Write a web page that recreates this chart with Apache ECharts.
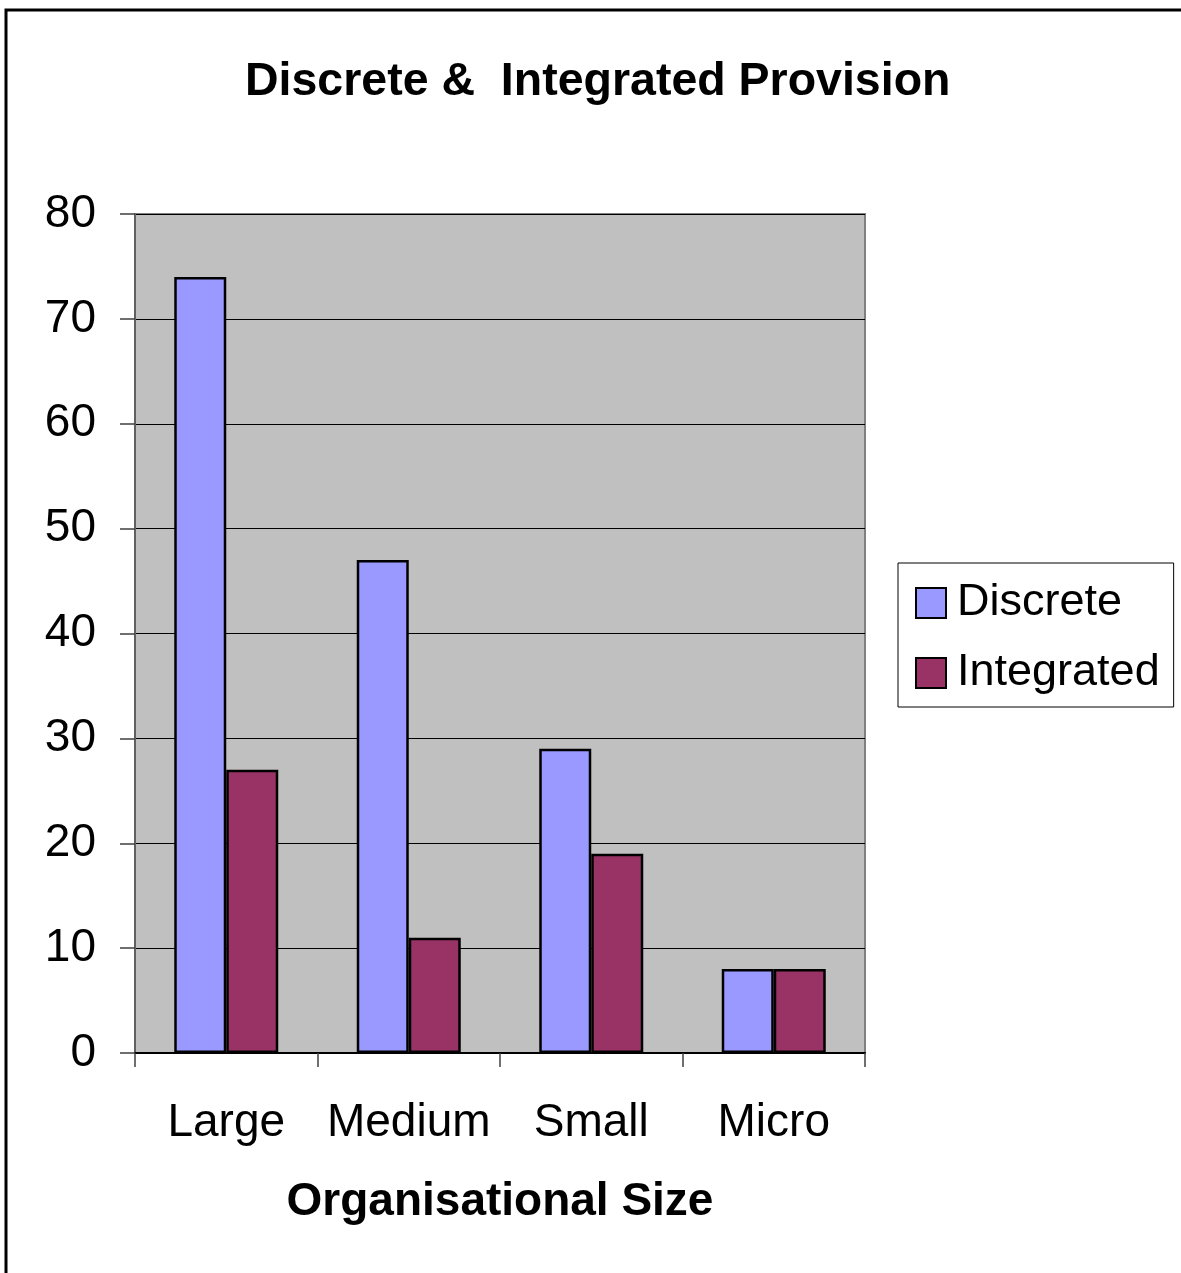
<!DOCTYPE html>
<html>
<head>
<meta charset="utf-8">
<script src="https://cdn.jsdelivr.net/npm/echarts@6/dist/echarts.min.js"></script>
<style>
  html, body { margin: 0; padding: 0; background: #fff; overflow: hidden; }
  #chart { width: 1181px; height: 1273px; }
</style>
</head>
<body>
<div id="chart"></div>
<script>
// Organisation size categories and the share of each provision type
const categories = ['Large', 'Medium', 'Small', 'Micro'];
const discrete = [74, 47, 29, 8];
const integrated = [27, 11, 19, 8];
const yTicks = { min: 0, max: 80, interval: 10 };

const FONT = '"Liberation Sans", Arial, sans-serif';

const chart = echarts.init(document.getElementById('chart'), null, { renderer: 'canvas' });

chart.setOption({
  backgroundColor: '#ffffff',
  animation: false,
  textStyle: { fontFamily: FONT, color: '#000' },
  title: {
    text: 'Discrete &  Integrated Provision',
    left: 245,
    top: 59,
    padding: 0,
    textStyle: { fontFamily: FONT, fontSize: 46.5, fontWeight: 'bold', color: '#000' }
  },
  graphic: [{
    type: 'rect',
    shape: { x: 6, y: 10, width: 1200, height: 1300 },
    style: { fill: 'none', stroke: '#000', lineWidth: 3 },
    silent: true,
    z: 100
  }],
  legend: {
    orient: 'vertical',
    left: 898,
    top: 563,
    padding: [17, 14, 11, 17],
    itemGap: 24,
    itemWidth: 30,
    itemHeight: 30,
    icon: 'rect',
    borderColor: '#000',
    borderWidth: 1,
    backgroundColor: '#fff',
    textStyle: { fontFamily: FONT, fontSize: 45, color: '#000', lineHeight: 46, padding: [0, 0, 0, 6] },
    data: ['Discrete', 'Integrated']
  },
  grid: {
    left: 135,
    top: 214,
    width: 730,
    height: 839,
    show: true,
    backgroundColor: '#C0C0C0',
    borderColor: '#808080',
    borderWidth: 2,
    containLabel: false
  },
  xAxis: {
    type: 'category',
    data: categories,
    boundaryGap: true,
    name: 'Organisational Size',
    nameLocation: 'middle',
    nameGap: 126,
    nameTextStyle: { fontFamily: FONT, fontSize: 46, fontWeight: 'bold', color: '#000', verticalAlign: 'top' },
    axisLine: { show: true, lineStyle: { color: '#000', width: 2 } },
    axisTick: { show: true, interval: 0, length: 14, alignWithLabel: false, lineStyle: { color: '#404040', width: 1.5 } },
    axisLabel: { interval: 0, margin: 47, fontFamily: FONT, fontSize: 46, color: '#000' },
    splitLine: { show: false }
  },
  yAxis: {
    type: 'value',
    min: yTicks.min,
    max: yTicks.max,
    interval: yTicks.interval,
    axisLine: { show: true, lineStyle: { color: '#606060', width: 2 } },
    axisTick: { show: true, inside: false, length: 15, lineStyle: { color: '#404040', width: 1.5 } },
    axisLabel: { margin: 39, fontFamily: FONT, fontSize: 46, color: '#000' },
    splitLine: { show: true, lineStyle: { color: '#000', width: 1 } }
  },
  series: [
    {
      name: 'Discrete',
      type: 'bar',
      data: discrete,
      barWidth: 52,
      barGap: '0%',
      itemStyle: { color: '#9999FF', borderColor: '#000', borderWidth: 2.5 }
    },
    {
      name: 'Integrated',
      type: 'bar',
      data: integrated,
      barWidth: 52,
      barGap: '0%',
      itemStyle: { color: '#993366', borderColor: '#000', borderWidth: 2.5 }
    }
  ]
});
</script>
</body>
</html>
